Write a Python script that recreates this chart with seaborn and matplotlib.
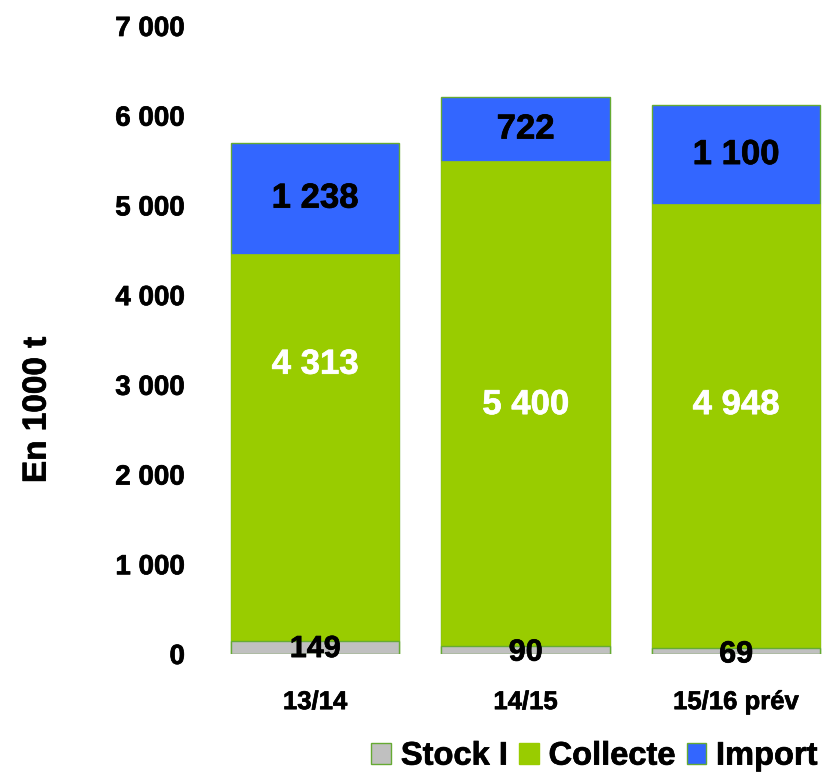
import pandas as pd
import matplotlib
matplotlib.use("Agg")
import matplotlib.pyplot as plt
import matplotlib.ticker as mticker
import matplotlib.patheffects as pe
from matplotlib.patches import Patch
import seaborn as sns

seasons = ["13/14", "14/15", "15/16 prév"]
stock = [149, 90, 69]
collecte = [4313, 5400, 4948]
imports = [1238, 722, 1100]
y_ticks = [0, 1000, 2000, 3000, 4000, 5000, 6000, 7000]

# where the value labels sit
collecte_label_y = [3230, 2780, 2780]
stock_label_y = [55, 15, -5]

df = pd.DataFrame({"season": seasons, "stock": stock, "collecte": collecte, "import": imports})
df["lvl_collecte"] = df["stock"] + df["collecte"]
df["lvl_import"] = df["lvl_collecte"] + df["import"]

sns.set_style("white")
plt.rcParams["font.family"] = ["Liberation Sans", "DejaVu Sans"]
plt.rcParams["font.weight"] = "bold"
plt.rcParams["text.color"] = "black"
plt.rcParams["xtick.color"] = "black"
plt.rcParams["ytick.color"] = "black"
plt.rcParams["axes.labelcolor"] = "black"

c_stock, c_coll, c_imp = "#c0c0c0", "#99cc00", "#3366ff"
edge = "#66aa33"
heavy_k = [pe.withStroke(linewidth=0.5, foreground="black")]
heavy_w = [pe.withStroke(linewidth=0.5, foreground="white")]

fig = plt.figure(figsize=(8.27, 7.78), dpi=100)
ax = fig.add_axes([210 / 827, (778 - 654) / 778, 617 / 827, 628 / 778])

# stacked bars drawn as overlapping cumulative totals
sns.barplot(data=df, x="season", y="lvl_import", color=c_imp, width=0.8, saturation=1,
            edgecolor=edge, linewidth=1, ax=ax)
sns.barplot(data=df, x="season", y="lvl_collecte", color=c_coll, width=0.8, saturation=1,
            edgecolor=c_coll, linewidth=0.5, ax=ax)
sns.barplot(data=df, x="season", y="stock", color=c_stock, width=0.8, saturation=1,
            edgecolor=edge, linewidth=1, ax=ax)

def fmt(v):
    return f"{int(v):,}".replace(",", " ")

for i, row in df.iterrows():
    ax.text(i, row["lvl_collecte"] + row["import"] / 2, fmt(row["import"]),
            ha="center", va="center", fontsize=25, fontweight="bold", color="black",
            path_effects=heavy_k)
    ax.text(i, collecte_label_y[i], fmt(row["collecte"]),
            ha="center", va="center", fontsize=25, fontweight="bold", color="white",
            path_effects=heavy_w)
    ax.text(i, stock_label_y[i], fmt(row["stock"]), ha="center", va="center",
            fontsize=22, fontweight="bold", color="black",
            family=["Liberation Sans Narrow", "Liberation Sans"], path_effects=heavy_k)

ax.set_xlim(-0.5, 2.432)
ax.set_ylim(0, 7000)
ax.set_yticks(y_ticks)
ax.yaxis.set_major_formatter(mticker.FuncFormatter(lambda v, p: fmt(v)))
ax.tick_params(axis="y", length=0, pad=18, labelsize=20)
ax.tick_params(axis="x", length=0, pad=26, labelsize=18.5)
for lab in ax.get_xticklabels() + ax.get_yticklabels():
    lab.set_fontweight("bold")
    lab.set_path_effects([pe.withStroke(linewidth=0.5, foreground="black")])
ax.set_xlabel("")
ax.set_ylabel("En 1000 t", fontsize=24, fontweight="bold", path_effects=heavy_k)
ax.yaxis.set_label_coords(-0.255, 0.389)
sns.despine(ax=ax, left=True, bottom=True)

handles = [Patch(facecolor=c_stock, edgecolor=edge, label="Stock I"),
           Patch(facecolor=c_coll, edgecolor=c_coll, label="Collecte"),
           Patch(facecolor=c_imp, edgecolor=edge, label="Import")]
leg = fig.legend(handles=handles, loc="lower right", bbox_to_anchor=(1.012, -0.017), ncol=3,
                 frameon=False, prop={"size": 23.5, "weight": "bold"}, handlelength=0.6,
                 handleheight=0.6, handletextpad=0.3, columnspacing=0.35, borderaxespad=0.2)
for t in leg.get_texts():
    t.set_path_effects([pe.withStroke(linewidth=0.5, foreground="black")])

fig.savefig("out.png", dpi=100)
